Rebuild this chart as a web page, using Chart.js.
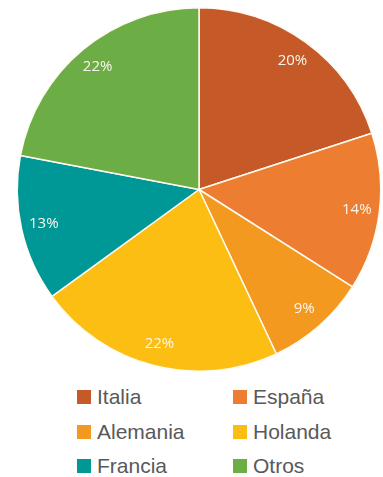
<!DOCTYPE html>
<html>
<head>
<meta charset="utf-8">
<script src="https://cdn.jsdelivr.net/npm/chart.js@4.4.1/dist/chart.umd.min.js"></script>
<style>
  html, body { margin: 0; padding: 0; background: #fff; }
  #wrap { position: relative; width: 383px; height: 477px; overflow: hidden; }
  #chart-box { position: absolute; left: 0; top: 0; width: 383px; height: 380px; }
  #legend {
    position: absolute; left: 77px; top: 380px;
    display: grid; grid-template-columns: 156px 140px; grid-auto-rows: 34.5px;
    font-family: "Liberation Sans", Arial, sans-serif; font-size: 21px; color: #595959;
  }
  .item { display: flex; align-items: center; }
  .box { width: 14px; height: 14px; margin-right: 6px; flex: none; }
</style>
</head>
<body>
<div id="wrap">
  <div id="chart-box"><canvas id="pieChart"></canvas></div>
  <div id="legend"></div>
</div>
<script>
// Data
const countries = ['Italia', 'España', 'Alemania', 'Holanda', 'Francia', 'Otros'];
const shares = [20, 14, 9, 22, 13, 22];
const sliceColors = ['#C55A28', '#ED7D31', '#F3991F', '#FDBE14', '#009797', '#6DAD45'];

// Percent labels inside the slices
const sliceLabels = {
    id: 'sliceLabels',
    afterDatasetsDraw(chart) {
        const ctx = chart.ctx;
        const meta = chart.getDatasetMeta(0);
        ctx.save();
        ctx.font = '15px "Open Sans", sans-serif';
        ctx.fillStyle = '#fbf6ec';
        ctx.textAlign = 'center';
        ctx.textBaseline = 'middle';
        meta.data.forEach((arc, i) => {
            const p = arc.getProps(['x', 'y', 'startAngle', 'endAngle', 'outerRadius'], true);
            const mid = (p.startAngle + p.endAngle) / 2;
            const r = p.outerRadius * 0.875;
            ctx.fillText(shares[i] + '%', p.x + Math.cos(mid) * r, p.y + Math.sin(mid) * r);
        });
        ctx.restore();
    }
};

document.addEventListener('DOMContentLoaded', () => {
    const ctx = document.getElementById('pieChart');
    new Chart(ctx, {
        type: 'pie',
        data: {
            labels: countries,
            datasets: [{
                data: shares,
                backgroundColor: sliceColors,
                borderColor: '#fffaf0',
                borderWidth: 1.5
            }]
        },
        options: {
            responsive: true,
            maintainAspectRatio: false,
            animation: false,
            layout: { padding: { left: 15, right: 0, top: 7, bottom: 8 } },
            plugins: {
                legend: { display: false },
                tooltip: { enabled: false }
            }
        },
        plugins: [sliceLabels]
    });

    // HTML legend, two columns
    const legend = document.getElementById('legend');
    countries.forEach((name, i) => {
        const item = document.createElement('div');
        item.className = 'item';
        item.innerHTML = `<span class="box" style="background:${sliceColors[i]}"></span><span>${name}</span>`;
        legend.appendChild(item);
    });
});
</script>
</body>
</html>
